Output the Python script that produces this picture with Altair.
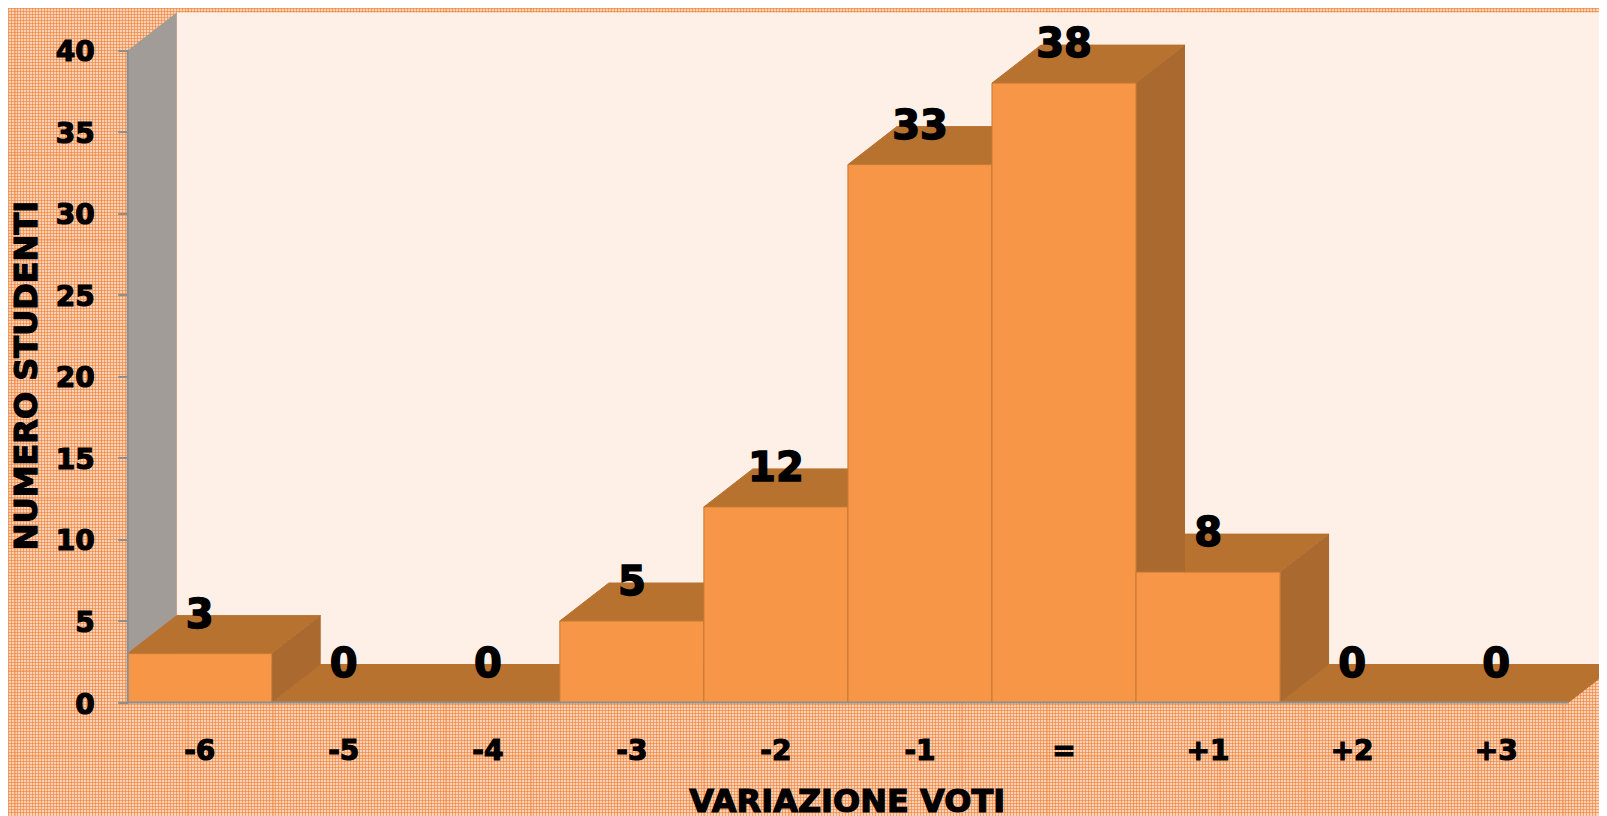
import altair as alt
import pandas as pd

categories = ["-6", "-5", "-4", "-3", "-2", "-1", "=", "+1", "+2", "+3"]
values = [3, 0, 0, 5, 12, 33, 38, 8, 0, 0]
y_ticks = [0, 5, 10, 15, 20, 25, 30, 35, 40]

DX = 0.34    # apparent depth of the 3D box, in category widths
DY = 2.33    # apparent depth, in students
XMAX = 10.214
YMAX = 42.33
FONT = "DejaVu Sans"
W, H = 1471.3, 690
L, T = 119.7, 4.5
B = 113.5
PAGE_W, PAGE_H = W + L, H + T + B


def bands(horizontal, span, period, width, alpha, start=0, rgb="238,128,48"):
    """Repeating 1px bands as a hard-stop gradient: the woven texture of the slide's background."""
    stops, p = [], float(start)
    clear, solid = f"rgba({rgb},0)", f"rgba({rgb},{alpha})"
    stops.append(alt.GradientStop(color=clear, offset=0))
    while p + width < span:
        for off, col in ((p, clear), (p, solid), (p + width, solid), (p + width, clear)):
            stops.append(alt.GradientStop(color=col, offset=off / span))
        p += period
    stops.append(alt.GradientStop(color=clear, offset=1))
    return alt.LinearGradient(gradient="linear", stops=stops,
                              x1=0, y1=0, x2=0 if horizontal else 1, y2=1 if horizontal else 0)


rows = list(enumerate(zip(categories, values)))
bars = pd.DataFrame([{"i": i, "x0": i, "x1": i + 1, "v": v, "zero": 0, "cat": c, "mid": i + 0.5, "lab": v + 2.5}
                     for i, (c, v) in rows])
tops = pd.DataFrame([r for i, (c, v) in rows for r in (
    {"b": i, "y": v, "xa": i, "xb": i + 1},
    {"b": i, "y": v + DY, "xa": i + DX, "xb": i + 1 + DX})])
sides = pd.DataFrame([r for i, (c, v) in rows if v > 0 for r in (
    {"b": i, "x": i + 1, "ya": 0, "yb": v},
    {"b": i, "x": i + 1 + DX, "ya": DY, "yb": v + DY})])
left_wall = pd.DataFrame([{"x": 0, "ya": 0, "yb": 40}, {"x": DX, "ya": DY, "yb": 40 + DY}])
back_wall = pd.DataFrame([{"x": DX, "x2": XMAX, "y": DY, "y2": 40 + DY}])
ytick_df = pd.DataFrame({"t": y_ticks})
one = pd.DataFrame([{"k": 0}])

xs = alt.Scale(domain=[0, XMAX], nice=False, zero=False)
ys = alt.Scale(domain=[0, YMAX], nice=False, zero=False)

xaxis = alt.Axis(values=[], labels=False, ticks=False, domain=False, grid=False, title=None)
yaxis = alt.Axis(values=y_ticks, labels=False, tickSize=10, tickColor="#8E8E8E", tickWidth=2,
                 domain=False, grid=False, title=None, zindex=1)

X = lambda f: alt.X(f, type="quantitative", scale=xs, axis=xaxis)
Y = lambda f: alt.Y(f, type="quantitative", scale=ys, axis=yaxis)
full = dict(x=alt.value(-L), x2=alt.value(W), y=alt.value(-T), y2=alt.value(H + B))


def texture(fill):
    return alt.Chart(one).mark_rect(fill=fill).encode(**full)


tex = (texture(bands(True, PAGE_H, 3, 1, 0.6))
       + texture(bands(False, PAGE_W, 3, 1, 0.6))
       + texture(bands(True, PAGE_H, 86, 1, 0.35, start=60))
       + texture(bands(False, PAGE_W, 86, 1, 0.35, start=7)))
wall = alt.Chart(back_wall).mark_rect(color="#FEF0E7").encode(x=X("x"), x2="x2", y=Y("y"), y2="y2")
lwall = alt.Chart(left_wall).mark_area(color="#A29C98", orient="vertical").encode(x=X("x"), y=Y("ya"), y2="yb")
top = alt.Chart(tops).mark_area(color="#B87230", stroke="#B87230", strokeWidth=1, orient="horizontal").encode(
    y=Y("y"), x=X("xa"), x2="xb", detail="b:N")
side = alt.Chart(sides).mark_area(color="#A9692F", orient="vertical").encode(
    x=X("x"), y=Y("ya"), y2="yb", detail="b:N")
front = alt.Chart(bars[bars.v > 0]).mark_rect(color="#F79646", stroke="#C47A35", strokeWidth=1).encode(
    x=X("x0"), x2="x1", y=Y("zero"), y2="v")
base = alt.Chart(pd.DataFrame([{"a": 0, "b": 10, "y": 0}])).mark_rule(color="#8E8E8E", strokeWidth=2).encode(
    x=X("a"), x2="b", y=Y("y"))
vert = alt.Chart(pd.DataFrame([{"x": 0, "a": 0, "b": 40}])).mark_rule(color="#8E8E8E", strokeWidth=2).encode(
    x=X("x"), y=Y("a"), y2="b")
heavy = dict(font=FONT, fontWeight="bold", color="black", stroke="black")
labels = alt.Chart(bars).mark_text(fontSize=40, strokeWidth=1.5, baseline="middle", dy=3, **heavy).encode(
    x=X("mid"), y=Y("lab"), text="v:Q")
xlabels = alt.Chart(bars).mark_text(fontSize=28, strokeWidth=1.2, baseline="middle", **heavy).encode(
    x=X("mid"), y=alt.value(H + 49), text="cat:N")
ylabels = alt.Chart(ytick_df).mark_text(fontSize=28, strokeWidth=1.2, baseline="middle", align="right", dy=3, **heavy).encode(
    x=alt.value(-33), y=Y("t"), text="t:Q")
xtitle = alt.Chart(one).mark_text(fontSize=32, strokeWidth=1.2, baseline="alphabetic", align="center",
                                  text="VARIAZIONE VOTI", **heavy).encode(x=alt.value(719.5), y=alt.value(H + 109))
ytitle = alt.Chart(one).mark_text(fontSize=32, strokeWidth=1.2, baseline="middle", align="center", angle=270,
                                  text="NUMERO STUDENTI", **heavy).encode(x=alt.value(-101), y=alt.value(363))

chart = (tex + wall + lwall + top + side + front + base + vert + labels + xlabels + ylabels + xtitle + ytitle).properties(
    width=W, height=H,
    background="#FAD1B8",
    padding={"left": L, "top": T, "right": 0, "bottom": B},
    autosize=alt.AutoSizeParams(type="none"),
).configure_view(stroke=None)

chart.save("out.html", embed_options={"renderer": "svg", "actions": False})
